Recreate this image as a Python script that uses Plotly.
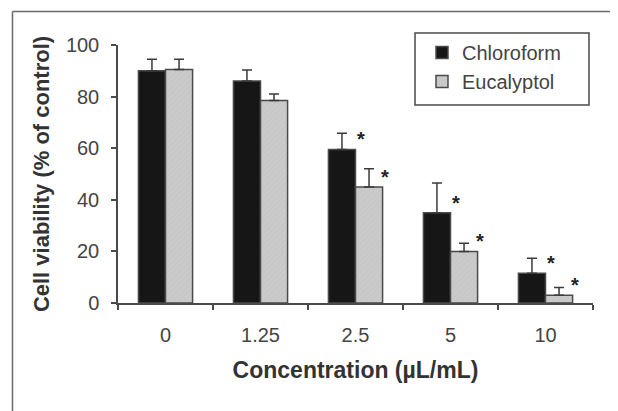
import plotly.graph_objects as go

categories = ["0", "1.25", "2.5", "5", "10"]
chloroform = [90, 86, 59.5, 35, 11.5]
chloroform_err = [4.5, 4.3, 6.3, 11.5, 5.8]
eucalyptol = [90.5, 78.5, 45, 20, 3]
eucalyptol_err = [4, 2.5, 7, 3.2, 3]
chloroform_sig = [False, False, True, True, True]
eucalyptol_sig = [False, False, True, True, True]
y_ticks = [0, 20, 40, 60, 80, 100]

# page has an 8px body margin, so the figure is drawn 8px in from the window edge
OFF = 8
W, H = 618 - OFF, 411 - OFF
L, R, T, B = 118 - OFF, 25, 45 - OFF, 108

def px_x(px):  # page pixel -> paper
    return (px - OFF - L) / (W - L - R)

def px_y(py):
    return (H - B - (py - OFF)) / (H - T - B)

FONT = "Liberation Sans, Arial, sans-serif"
EDGE = "#4a4a4a"

fig = go.Figure()
fig.add_trace(go.Bar(
    x=categories, y=chloroform, name="Chloroform",
    marker=dict(color="#161616", line=dict(color=EDGE, width=1.5)),
    error_y=dict(type="data", array=chloroform_err, arrayminus=[0]*5, symmetric=False,
                 color="#3a3a3a", thickness=1.5, width=5),
    legendgroup="a",
))
fig.add_trace(go.Bar(
    x=categories, y=eucalyptol, name="Eucalyptol",
    marker=dict(color="#cacaca", line=dict(color=EDGE, width=1.5),
                pattern=dict(shape="/", fgcolor="#b4b4b4", size=4, solidity=0.15)),
    error_y=dict(type="data", array=eucalyptol_err, arrayminus=[0]*5, symmetric=False,
                 color="#3a3a3a", thickness=1.5, width=5),
    legendgroup="b",
))

annotations = []
for i, c in enumerate(categories):
    if chloroform_sig[i]:
        annotations.append(dict(x=i, y=chloroform[i], text="<b>*</b>", showarrow=False,
                                xshift=19 - 13.5, yshift=10, font=dict(size=20, color="#222", family=FONT)))
    if eucalyptol_sig[i]:
        annotations.append(dict(x=i, y=eucalyptol[i], text="<b>*</b>", showarrow=False,
                                xshift=16 + 13.5, yshift=10, font=dict(size=20, color="#222", family=FONT)))

shapes = [
    # outer frame (only top and left edges are visible)
    dict(type="line", xref="paper", yref="paper", x0=px_x(12.5), x1=px_x(630),
         y0=px_y(11.5), y1=px_y(11.5), line=dict(color="#6a6a6a", width=1.5)),
    dict(type="line", xref="paper", yref="paper", x0=px_x(12.5), x1=px_x(12.5),
         y0=px_y(11.5), y1=px_y(425), line=dict(color="#6a6a6a", width=1.5)),
    # legend box
    dict(type="rect", xref="paper", yref="paper", x0=px_x(415), x1=px_x(589),
         y0=px_y(105), y1=px_y(33), line=dict(color=EDGE, width=1.5), fillcolor="white",
         layer="above"),
]

fig.update_layout(
    width=W, height=H,
    margin=dict(l=L, r=R, t=T, b=B, autoexpand=False),
    paper_bgcolor="white", plot_bgcolor="white",
    barmode="group", bargap=0.43, bargroupgap=0,
    font=dict(family=FONT, size=20, color="#333"),
    xaxis=dict(
        type="category", range=[-0.5, len(categories) - 0.5],
        showline=True, linecolor=EDGE, linewidth=1.5,
        ticks="outside", tickson="boundaries", ticklen=5, tickcolor=EDGE, tickwidth=1.5,
        tickfont=dict(size=20, color="#444"), ticklabelstandoff=13, tickangle=0,
        title=dict(text="<b>Concentration (µL/mL)</b>", font=dict(size=23, color="#333"), standoff=17),
        showgrid=False, zeroline=False,
    ),
    yaxis=dict(
        range=[0, 100], tickvals=y_ticks, showline=True, linecolor=EDGE, linewidth=1.5,
        ticks="outside", ticklen=5, tickcolor=EDGE, tickwidth=1.5,
        tickfont=dict(size=20, color="#444"), ticklabelstandoff=8,
        title=dict(text="<b>Cell viability (% of control)</b>", font=dict(size=22, color="#333"), standoff=10),
        showgrid=False, zeroline=False,
    ),
    legend=dict(
        x=px_x(422), y=px_y(33), xanchor="left", yanchor="top",
        borderwidth=0, bgcolor="rgba(0,0,0,0)",
        font=dict(size=20, color="#444"), tracegroupgap=11, itemwidth=30,
        traceorder="normal",
    ),
    annotations=annotations,
    shapes=shapes,
)

fig.write_html("out.html")
